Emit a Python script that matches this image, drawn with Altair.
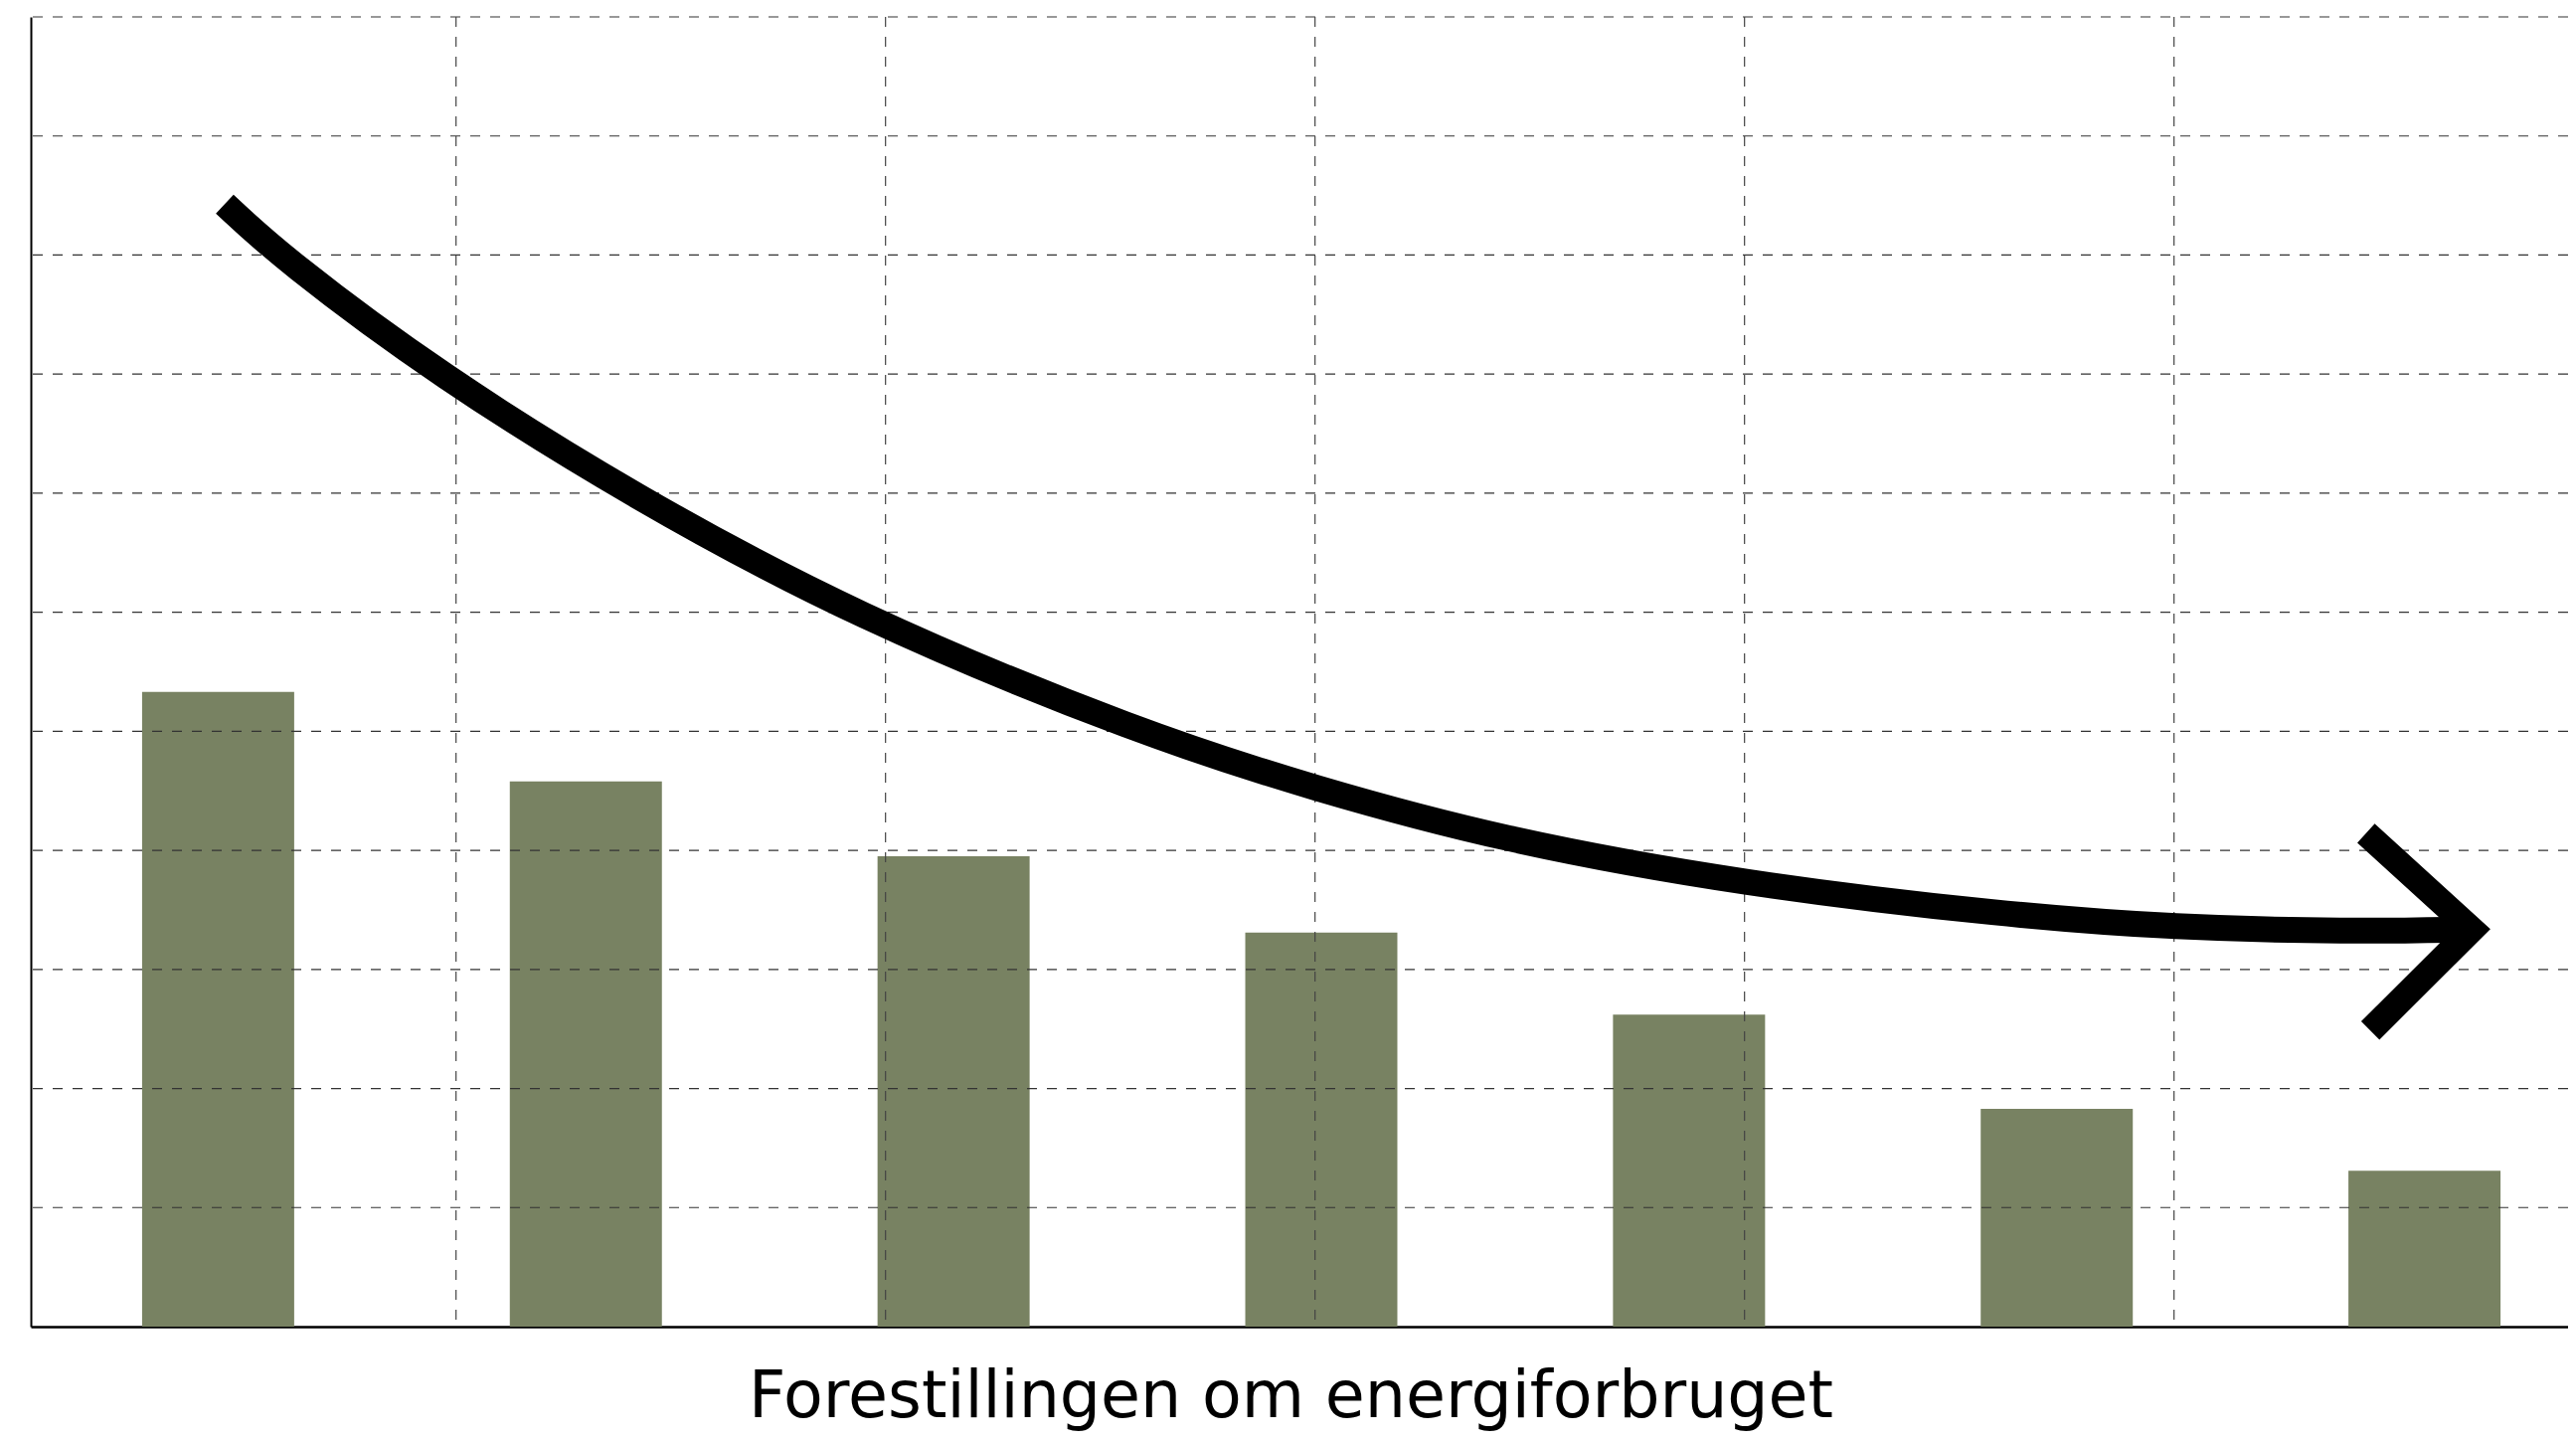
import altair as alt
import pandas as pd

# ---- data ----
categories = ["1", "2", "3", "4", "5", "6", "7"]
bar_values = [5.33, 4.58, 3.95, 3.31, 2.62, 1.83, 1.31]

# trend curve (centre line), in grid units
curve_x = [0.4614, 0.5956, 0.9646, 1.4151, 1.9209, 2.6049, 3.0031, 3.4257, 4.0007, 4.6141, 5.0031, 5.4058, 5.6930]
curve_y = [9.428, 8.975, 7.980, 6.970, 5.977, 4.967, 4.516, 4.095, 3.715, 3.456, 3.351, 3.318, 3.336]

# arrow head (upper end, tip, lower end)
head_x = [5.447, 5.693, 5.457]
head_y = [4.144, 3.336, 2.487]

vgrid_values = [1, 2, 3, 4, 5]
hgrid_values = [1, 2, 3, 4, 5, 6, 7, 8, 9, 10, 11]

x_title = "Forestillingen om energiforbruget"

# ---- tables ----
bars_df = pd.DataFrame({"cat": categories, "val": bar_values})
curve_df = pd.DataFrame({"x": curve_x, "val": curve_y, "i": list(range(len(curve_x)))})
head_df = pd.DataFrame({"x": head_x, "val": head_y, "i": list(range(len(head_x)))})
vgrid_df = pd.DataFrame({"x": vgrid_values})
hgrid_df = pd.DataFrame({"val": hgrid_values})

W, H = 2552, 1317
xq = alt.Scale(domain=[0.01, 0.01 + W / 432], nice=False, zero=False)
yq = alt.Scale(domain=[0, 11], nice=False)

y_axis = alt.Axis(
    labels=False, ticks=False, grid=False, title=None,
    domain=True, domainColor="black", domainWidth=2,
)

bars = alt.Chart(bars_df).mark_bar(color="#788262").encode(
    x=alt.X(
        "cat:N",
        sort=categories,
        scale=alt.Scale(range=[0, 2596], paddingInner=0.5864, paddingOuter=0.3026),
        axis=alt.Axis(
            labels=False, ticks=False, grid=False,
            domain=True, domainColor="black", domainWidth=2.5,
            title=x_title, titleFont="DejaVu Sans", titleFontSize=65,
            titleFontWeight="normal", titleColor="black",
            titleX=1267, titleY=90, titleAlign="center",
            titleBaseline="alphabetic", titleAngle=0,
        ),
    ),
    y=alt.Y("val:Q", scale=yq, axis=y_axis),
)

hgrid = alt.Chart(hgrid_df).mark_rule(
    color="#333333", strokeWidth=1.2, strokeDash=[10, 10]
).encode(y=alt.Y("val:Q", scale=yq, axis=y_axis))

vgrid = alt.Chart(vgrid_df).mark_rule(
    color="#444444", strokeWidth=1.2, strokeDash=[10, 10]
).encode(x=alt.X("x:Q", scale=xq, axis=None))

curve = alt.Chart(curve_df).mark_line(
    color="black", strokeWidth=26, interpolate="basis", strokeCap="butt"
).encode(
    x=alt.X("x:Q", scale=xq, axis=None),
    y=alt.Y("val:Q", scale=yq, axis=y_axis),
    order="i:Q",
)

head = alt.Chart(head_df).mark_line(
    color="black", strokeWidth=26, strokeJoin="miter", strokeCap="butt", strokeMiterLimit=10
).encode(
    x=alt.X("x:Q", scale=xq, axis=None),
    y=alt.Y("val:Q", scale=yq, axis=y_axis),
    order="i:Q",
)

chart = (
    alt.layer(bars, hgrid, vgrid, curve, head)
    .resolve_scale(x="independent")
    .properties(
        width=W, height=H,
        padding={"left": 23, "top": 9, "right": 0, "bottom": 108},
        autosize=alt.AutoSizeParams(type="none"),
        background="white",
    )
    .configure_view(stroke=None)
)

chart.save("out.html", embed_options={"renderer": "svg", "actions": False})
